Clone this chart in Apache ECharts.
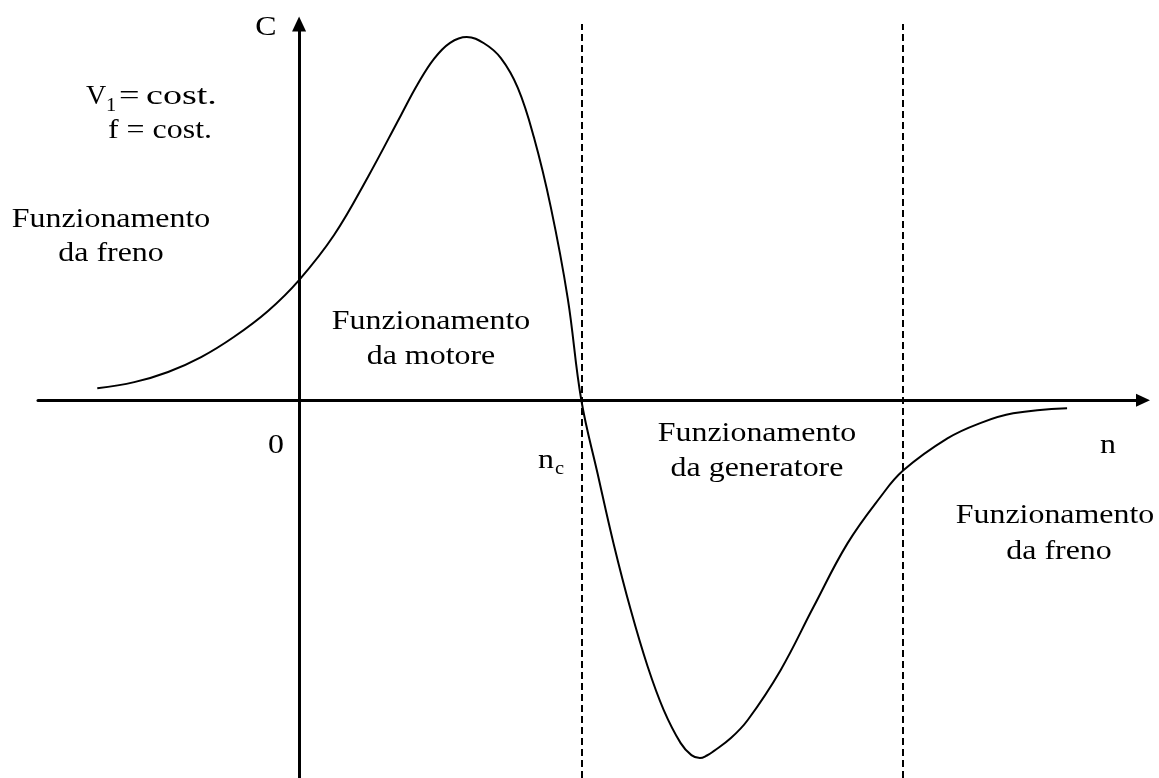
<!DOCTYPE html>
<html>
<head>
<meta charset="utf-8">
<script src="https://cdn.jsdelivr.net/npm/echarts@6/dist/echarts.min.js"></script>
<style>
  html, body { margin: 0; padding: 0; background: #fff; }
  #chart { width: 1159px; height: 778px; }
</style>
</head>
<body>
<div id="chart"></div>
<script>
// speed n (n_c = 1) and torque C (peak = 1)
const speedN = [-0.715, -0.584, -0.464, -0.347, -0.23, -0.11, 0, 0.124, 0.244, 0.361, 0.42, 0.478,
  0.535, 0.594, 0.655, 0.715, 0.775, 0.832, 0.892, 0.952, 1.0, 1.058, 1.115, 1.175, 1.235, 1.292,
  1.352, 1.39, 1.42, 1.445, 1.469, 1.53, 1.589, 1.706, 1.822, 1.943, 2.059, 2.141, 2.297, 2.413, 2.53, 2.721]
const torqueC = [0.033, 0.05, 0.078, 0.119, 0.175, 0.246, 0.331, 0.455, 0.615, 0.785, 0.87, 0.94,
  0.984, 1.0, 0.983, 0.942, 0.86, 0.724, 0.531, 0.28, 0, -0.203, -0.397, -0.577, -0.733, -0.853,
  -0.944, -0.977, -0.985, -0.978, -0.966, -0.93, -0.881, -0.743, -0.57, -0.394, -0.267, -0.193, -0.105, -0.063, -0.036, -0.022]
// dashed borders between operating regions
const regionLimits = [1, 2.142]

const stretch = 1.14

function txt(text, x, y, size, align, sx) {
  return {
    type: 'text',
    x: x,
    y: y,
    scaleX: sx || stretch,
    silent: true,
    style: {
      text: text,
      fill: '#000',
      fontFamily: 'Liberation Serif',
      fontSize: size,
      align: align || 'center',
      verticalAlign: 'middle'
    }
  }
}

const chart = echarts.init(document.getElementById('chart'))

const option = {
  animation: false,
  backgroundColor: '#fff',
  grid: { left: 38, right: 16, top: 24, bottom: 0, containLabel: false },
  xAxis: {
    type: 'value',
    min: -0.925,
    max: 2.99,
    axisLine: {
      show: true,
      onZero: true,
      symbol: ['none', 'triangle'],
      symbolSize: [13, 14],
      lineStyle: { color: '#000', width: 3 }
    },
    axisTick: { show: false },
    axisLabel: { show: false },
    splitLine: { show: false }
  },
  yAxis: {
    type: 'value',
    min: -1.04,
    max: 1.036,
    axisLine: {
      show: true,
      onZero: true,
      symbol: ['none', 'triangle'],
      symbolSize: [14, 15],
      lineStyle: { color: '#000', width: 3 }
    },
    axisTick: { show: false },
    axisLabel: { show: false },
    splitLine: { show: false }
  },
  series: [
    {
      type: 'line',
      data: speedN.map((n, i) => [n, torqueC[i]]),
      showSymbol: false,
      smooth: 0.4,
      lineStyle: { color: '#000', width: 2 },
      markLine: {
        silent: true,
        symbol: ['none', 'none'],
        label: { show: false },
        lineStyle: { color: '#000', width: 2, type: [7, 4] },
        data: regionLimits.map((v) => ({ xAxis: v }))
      }
    }
  ],
  graphic: [
    txt('C', 266, 28, 28),
    txt('V', 86, 97, 28, 'left', 1.0),
    txt('1', 106, 106, 18, 'left'),
    txt('=', 119, 97, 28, 'left', 1.3),
    txt('cost.', 146, 97, 28, 'left', 1.36),
    txt('f = cost.', 160, 131, 28),
    txt('Funzionamento', 111, 220, 28),
    txt('da freno', 111, 254, 28),
    txt('Funzionamento', 431, 322, 28),
    txt('da motore', 431, 357, 28),
    txt('0', 276, 446, 28),
    txt('n', 538, 461, 28, 'left'),
    txt('c', 555, 469, 18, 'left'),
    txt('Funzionamento', 757, 434, 28),
    txt('da generatore', 757, 469, 28),
    txt('n', 1108, 446, 28),
    txt('Funzionamento', 1055, 516, 28),
    txt('da freno', 1059, 552, 28)
  ]
}

option && chart.setOption(option)
</script>
</body>
</html>
